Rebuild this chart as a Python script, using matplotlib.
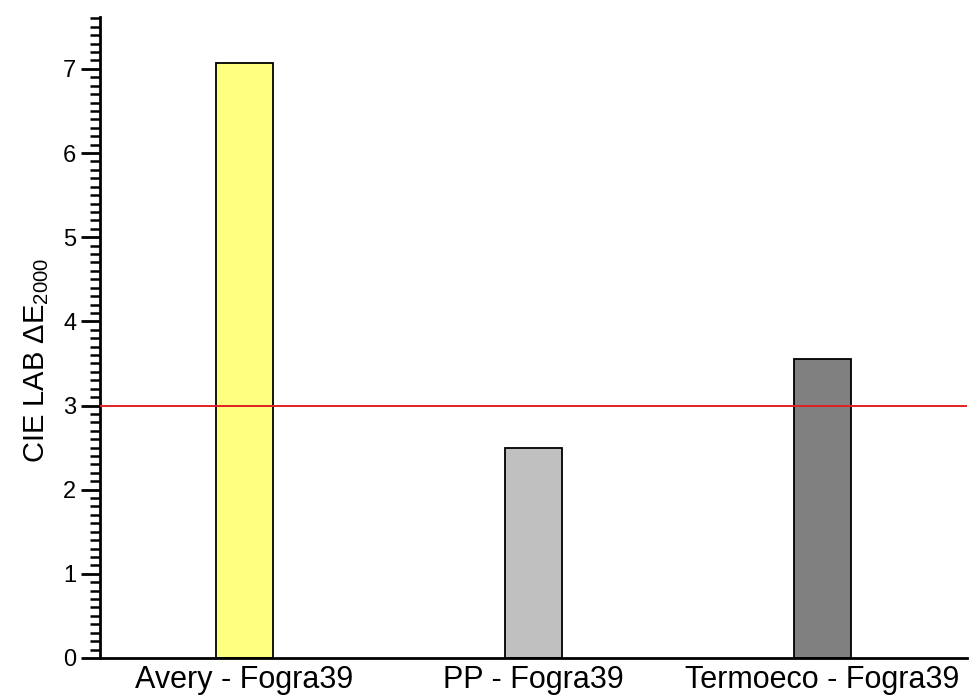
#bar chart of CIE LAB delta E 2000 per substrate vs Fogra39

import matplotlib
matplotlib.use('Agg')
import matplotlib.pyplot as plt
import numpy as np
from matplotlib.ticker import MultipleLocator

categories = ['Avery - Fogra39', 'PP - Fogra39', 'Termoeco - Fogra39']
delta_e = [7.07, 2.49, 3.55]
bar_colors = ['#FFFF80', '#C0C0C0', '#808080']
threshold = 3.0

plt.rcParams['font.family'] = ['Liberation Sans', 'DejaVu Sans']
plt.rcParams['mathtext.fontset'] = 'custom'
plt.rcParams['mathtext.rm'] = 'Liberation Sans'
plt.rcParams['mathtext.it'] = 'Liberation Sans'

fig = plt.figure(figsize=(9.78, 6.97), dpi=100)
ax = fig.add_axes([0.1022, 0.056, 0.8866, 0.92])

x = np.arange(len(categories))
ax.bar(x, delta_e, width=0.2, color=bar_colors, edgecolor='black', linewidth=1.3, zorder=2)

#reference line at deltaE = 3
ax.axhline(threshold, color='#E02020', linewidth=1.4, zorder=3)

ax.set_xlim(-0.5, 2.5)
ax.set_ylim(0, 7.62)
ax.set_xticks(x)
ax.set_xticklabels(categories, fontsize=22)
ax.tick_params(axis='x', length=0, pad=5)

ax.yaxis.set_major_locator(MultipleLocator(1))
ax.yaxis.set_minor_locator(MultipleLocator(0.1))
ax.tick_params(axis='y', which='major', length=14, width=2, labelsize=17, direction='out', pad=3)
ax.tick_params(axis='y', which='minor', length=7, width=1.8, direction='out')

ax.set_ylabel('CIE LAB $\\Delta$E$_{2000}$', fontsize=21)
ax.yaxis.set_label_coords(-0.056, 0.465)

ax.spines['top'].set_visible(False)
ax.spines['right'].set_visible(False)
ax.spines['left'].set_linewidth(2)
ax.spines['bottom'].set_linewidth(2)

fig.savefig('out.png', dpi=100)
